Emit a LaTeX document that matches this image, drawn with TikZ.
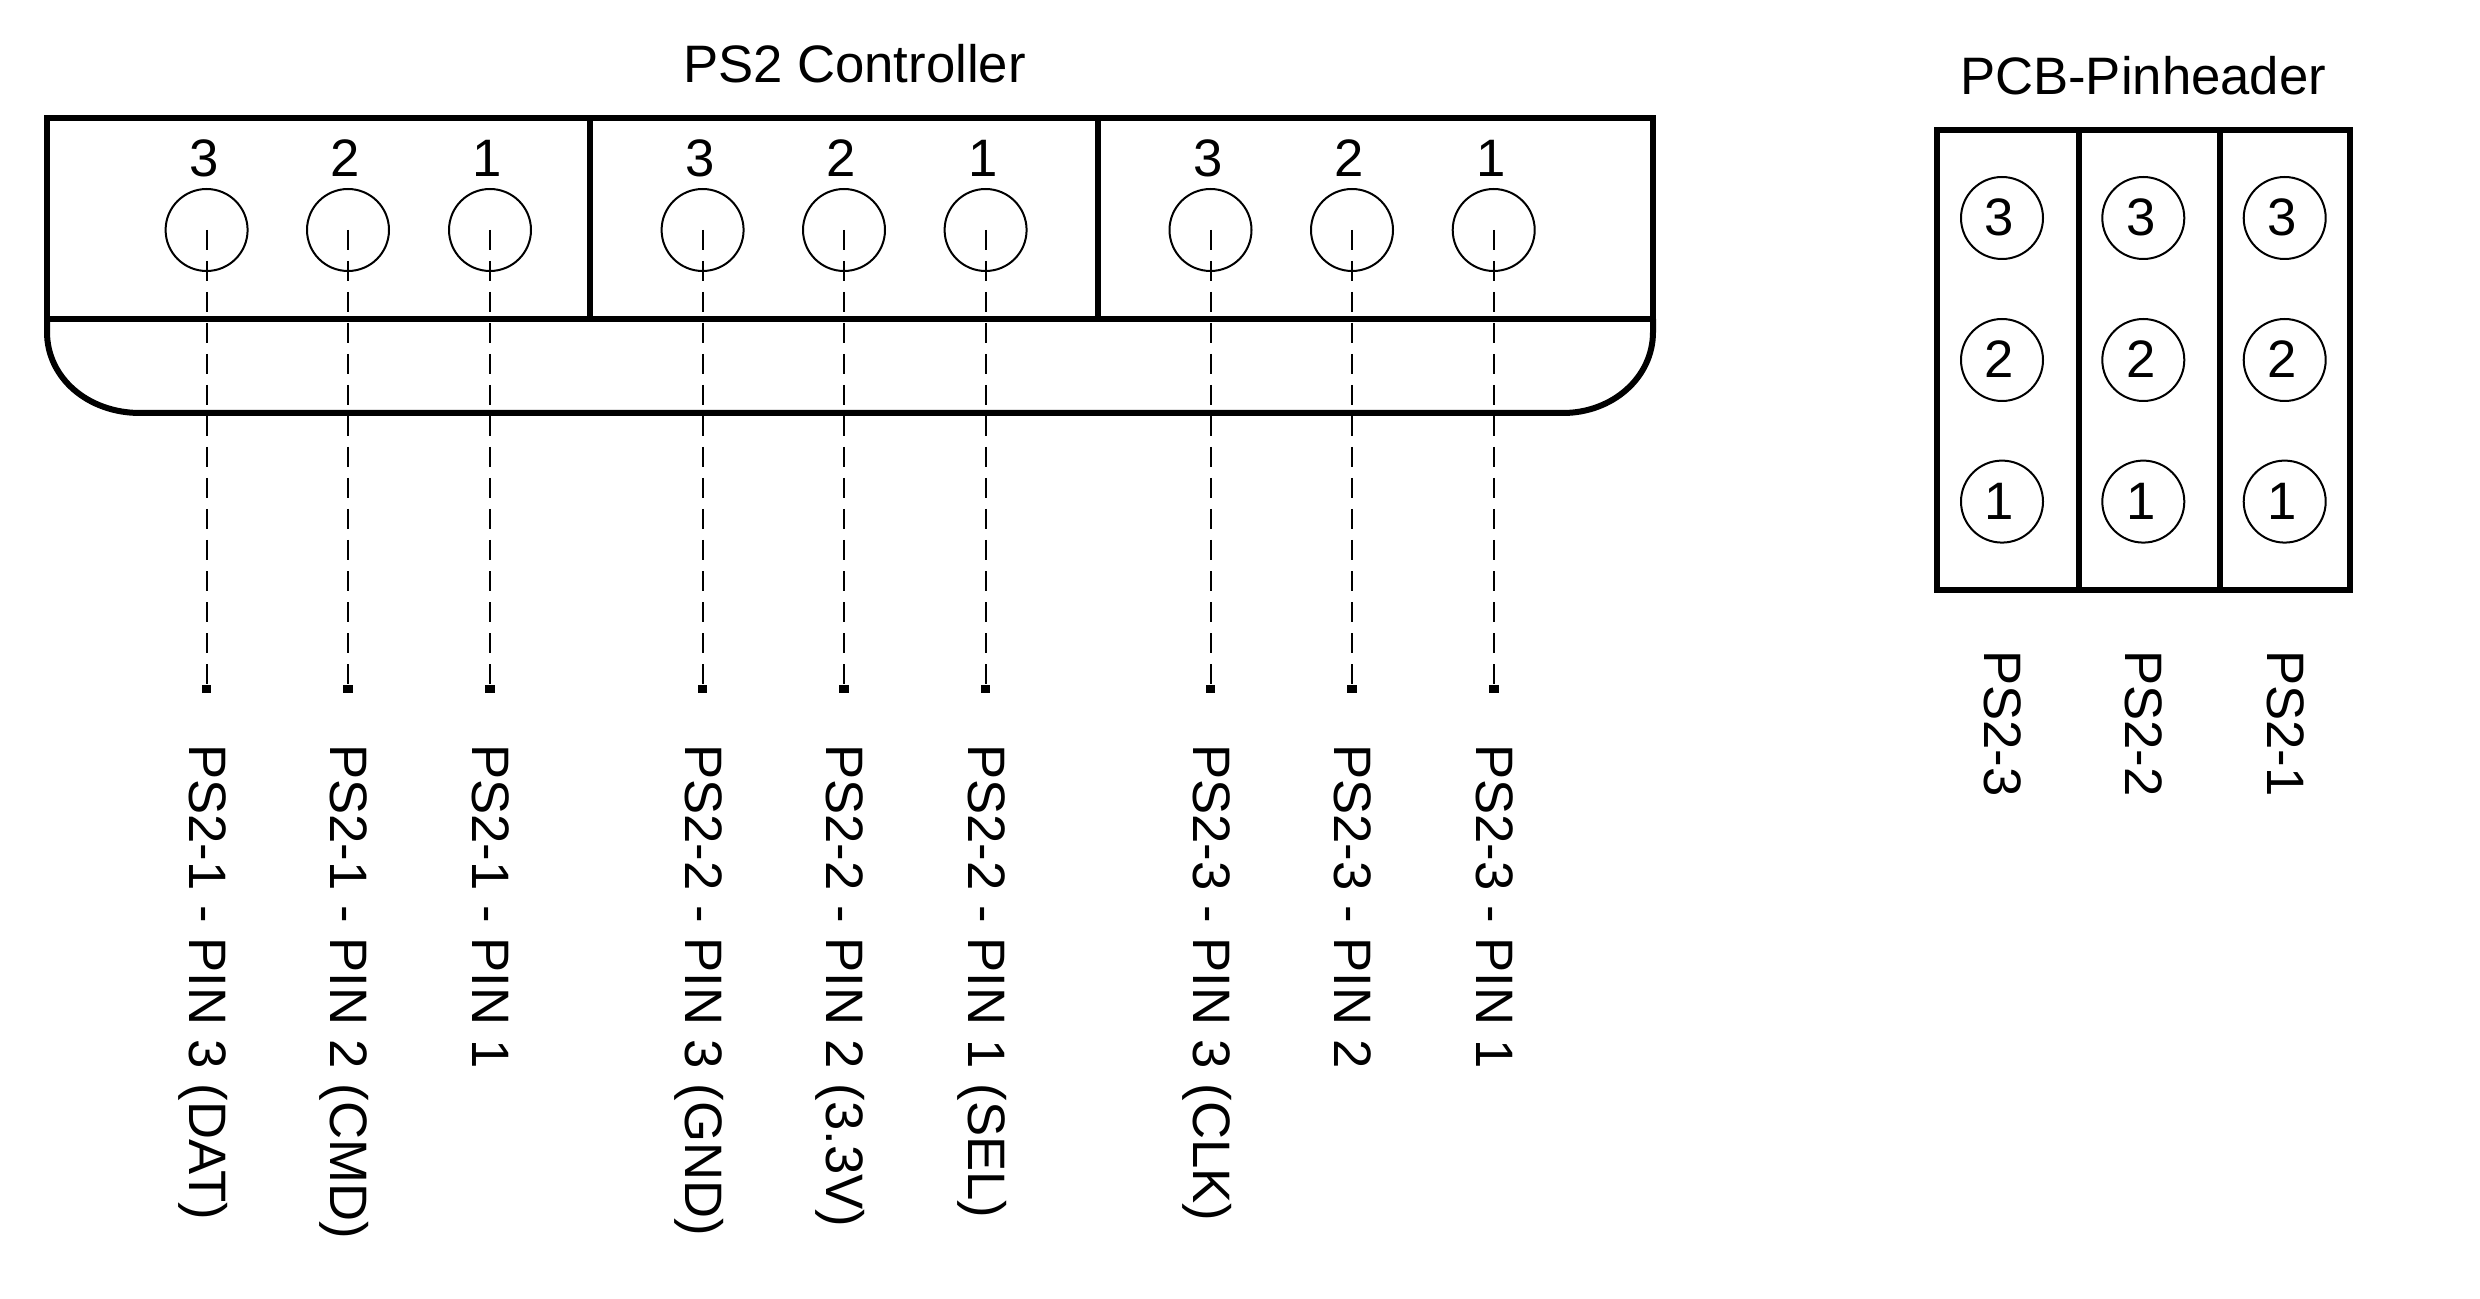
\documentclass[tikz,border=0pt]{standalone}
\usepackage{fontspec}
\setmainfont{Liberation Sans}
\begin{document}
\begin{tikzpicture}[x=0.5pt,y=-0.5pt,
  every node/.style={inner sep=0pt,outer sep=0pt},
  heavy/.style={line width=3pt,line join=miter},
  txt/.style={font=\fontsize{26.35}{30}\selectfont},
  pinhole/.style={circle,draw,line width=1pt,minimum size=41pt},
  lead/.style={line width=1pt,dash pattern=on 10pt off 5.5pt},
  tip/.style={fill=black,minimum width=4.8pt,minimum height=4.4pt},
  vlabel/.style={txt,rotate=-90,anchor=base west}]
\useasboundingbox (0,0) rectangle (2480,1299);
% PS2 controller body
\coordinate (tl) at (47,118);
\coordinate (tr) at (1653,118);
\coordinate (ml) at (47,319);
\coordinate (mr) at (1653,319);
\coordinate (bl) at (140,413);
\coordinate (br) at (1563,413);
\draw[heavy] (ml) -- (tl) -- (tr) -- (mr);
\draw[heavy] (ml) -- (47,332) .. controls (47,378) and (88,413) .. (bl) -- (br) .. controls (1612,413) and (1653,378) .. (1653,332) -- (mr);
\draw[heavy] (ml) -- (mr);
\draw[heavy] (590,118) -- (590,319);
\draw[heavy] (1098,118) -- (1098,319);
\node[txt,anchor=base west] (title1) at (683,83) {PS2 Controller};
\node[txt,anchor=base west] (title2) at (1960,95) {PCB-Pinheader};
% pins, leads and labels
\foreach \k/\x/\d/\t in {
  a/206.6/3/PS2-1 - PIN 3 (DAT),
  b/348/2/PS2-1 - PIN 2 (CMD),
  c/490/1/PS2-1 - PIN 1,
  d/702.6/3/PS2-2 - PIN 3 (GND),
  e/844/2/PS2-2 - PIN 2 (3.3V),
  f/985.6/1/PS2-2 - PIN 1 (SEL),
  g/1210.5/3/PS2-3 - PIN 3 (CLK),
  h/1352/2/PS2-3 - PIN 2,
  i/1493.7/1/PS2-3 - PIN 1}{
  \node[pinhole] (pin\k) at (\x,230) {};
  \node[txt,anchor=base] (num\k) at (\x-2.5,177) {\d};
  \node[tip] (tip\k) at (\x,689) {};
  \draw[lead] (pin\k.center) -- (tip\k.center);
  \node[vlabel] (lab\k) at (\x-17.5,744) {\t};
}
% pin header
\draw[heavy] (1937,130) rectangle (2350,590);
\draw[heavy] (2079,130) -- (2079,590);
\draw[heavy] (2220,130) -- (2220,590);
\foreach \c/\x/\t in {p/2002/PS2-3,q/2143.3/PS2-2,r/2284.7/PS2-1}{
  \foreach \d/\y in {3/218,2/360,1/501.6}{
    \node[pinhole] (hdr\c\d) at (\x,\y) {};
    \node[txt,anchor=base] (hnum\c\d) at (\x-2.5,\y+18) {\d};
  }
  \node[vlabel] (hlab\c) at (\x-17.5,650) {\t};
}
\end{tikzpicture}
\end{document}
